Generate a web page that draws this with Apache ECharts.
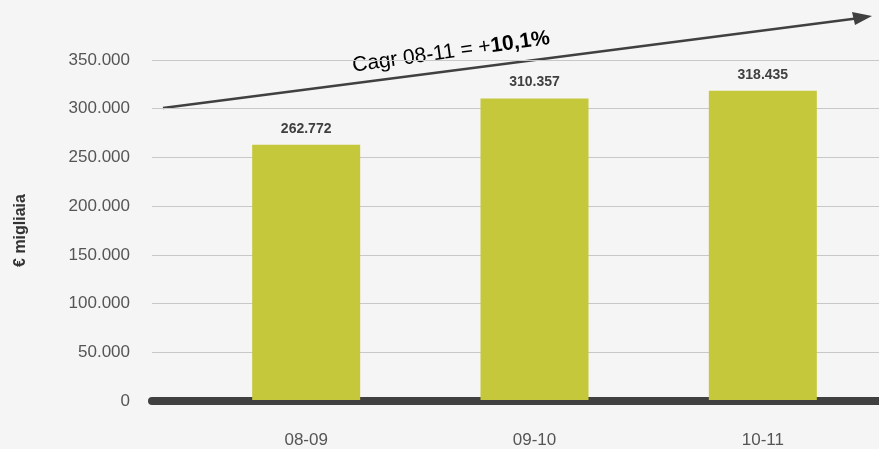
<!DOCTYPE html>
<html>
<head>
<meta charset="utf-8">
<script src="https://cdn.jsdelivr.net/npm/echarts@6/dist/echarts.min.js"></script>
<style>html,body{margin:0;padding:0;background:#f5f5f5}#c{width:879px;height:449px}</style>
</head>
<body>
<div id="c"></div>
<script>
const categories = ['08-09', '09-10', '10-11'];
const values = [262772, 310357, 318435];
const yTicks = [0, 50000, 100000, 150000, 200000, 250000, 300000, 350000];
const axisTitle = '€ migliaia';
const cagrLabel = 'Cagr 08-11 = +';
const cagrValue = '10,1%';

const fmt = v => String(v).replace(/\B(?=(\d{3})+(?!\d))/g, '.');
const FONT = '"Liberation Sans", Arial, sans-serif';

const chart = echarts.init(document.getElementById('c'));
chart.setOption({
  backgroundColor: '#f5f5f5',
  animation: false,
  grid: [
    { left: 152, right: 0, top: 60, bottom: 48 },
    { left: 192, right: 2, top: 60, bottom: 48 }
  ],
  xAxis: [
    { type: 'value', gridIndex: 0, min: 0, max: 1, offset: 3,
      axisLabel: { show: false }, axisTick: { show: false }, splitLine: { show: false },
      axisLine: { show: true, lineStyle: { color: '#404040', width: 8, cap: 'round' } } },
    { type: 'category', gridIndex: 1, data: categories,
      axisLine: { show: false }, axisTick: { show: false },
      axisLabel: { margin: 32, fontSize: 17, color: '#555', fontFamily: FONT } }
  ],
  yAxis: [
    { type: 'value', gridIndex: 0, min: yTicks[0], max: yTicks[yTicks.length - 1], interval: yTicks[1] - yTicks[0],
      axisLine: { show: false }, axisTick: { show: false },
      axisLabel: { margin: 22, fontSize: 17, color: '#555', fontFamily: FONT, formatter: fmt },
      splitLine: { lineStyle: { color: '#c8c8c8', width: 1 } },
      name: axisTitle, nameLocation: 'middle', nameRotate: 90, nameGap: 123,
      nameTextStyle: { fontSize: 16, fontWeight: 'bold', color: '#333', fontFamily: FONT } },
    { type: 'value', gridIndex: 1, min: yTicks[0], max: yTicks[yTicks.length - 1], show: false, splitLine: { show: false } }
  ],
  series: [{
    type: 'bar', xAxisIndex: 1, yAxisIndex: 1, data: values, barWidth: 108,
    itemStyle: { color: '#c6c83c' },
    label: { show: true, position: 'top', distance: 9, fontSize: 14, fontWeight: 'bold', color: '#404040', fontFamily: FONT, formatter: p => fmt(p.value) }
  }],
  graphic: [
    { type: 'line', shape: { x1: 163, y1: 108, x2: 856, y2: 18.5 }, style: { stroke: '#404040', lineWidth: 2.5 } },
    { type: 'polygon', shape: { points: [[872, 16], [852, 12], [855, 25]] }, style: { fill: '#404040' } },
    { type: 'text', x: 451, y: 52, rotation: 0.14,
      style: { text: '{a|' + cagrLabel + '}{b|' + cagrValue + '}', align: 'center', verticalAlign: 'middle',
        rich: { a: { fontSize: 21, color: '#555', fontFamily: FONT }, b: { fontSize: 21, fontWeight: 'bold', color: '#404040', fontFamily: FONT } } } }
  ]
});
</script>
</body>
</html>
